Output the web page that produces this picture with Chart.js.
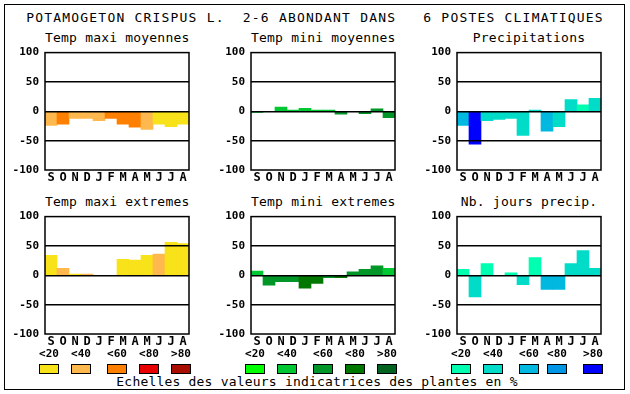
<!DOCTYPE html>
<html><head><meta charset="utf-8">
<script src="https://cdn.jsdelivr.net/npm/chart.js@4/dist/chart.umd.min.js"></script>
<style>
html,body{margin:0;padding:0;background:#fff;}
#wrap{position:relative;width:630px;height:394px;overflow:hidden;font-family:"DejaVu Sans Mono",monospace;}
#frame{position:absolute;left:4px;top:4px;width:621px;height:386px;border:1px solid #000;box-sizing:border-box;}
.txt{position:absolute;white-space:pre;color:#000;}
canvas{position:absolute;}
.box{position:absolute;width:18px;height:8px;border:1px solid #000;}
.lab{position:absolute;font-weight:bold;font-size:11px;text-align:center;width:30px;}
</style></head><body>
<div id="wrap">
<div id="frame"></div>
<div class="txt" style="left:0;width:630px;text-align:center;top:10px;font-size:13px;letter-spacing:1.2px;">POTAMOGETON CRISPUS L.  2-6 ABONDANT DANS   6 POSTES CLIMATIQUES</div>
<div class="txt" style="left:0;width:630px;text-align:center;top:374px;font-size:13px;letter-spacing:0.2px;padding-left:2px;">Echelles des valeurs indicatrices des plantes en %</div>
</div>
<script>
const months = ["S","O","N","D","J","F","M","A","M","J","J","A"];
const yTicks = [-100,-50,0,50,100];
const classLabels = ["<20","<40","<60","<80",">80"];
const titles = ["Temp maxi moyennes","Temp mini moyennes","Precipitations",
                "Temp maxi extremes","Temp mini extremes","Nb. jours precip."];

// colour scales: <20, <40, <60, <80, >80
const scaleTemp  = ["#F8E21A","#FFB84D","#FF8000","#E80000","#A80E00"];
const scaleMini  = ["#00FF00","#00C832","#009628","#007800","#006420"];
const scalePrec  = ["#00FFB0","#00DCC8","#00B8E0","#0096E6","#0000FF"];

// values per month (S..A)
const tmaxMoy  = [-24,-22,-12,-12,-16,-12,-22,-27,-31,-22,-26,-22];
const tminMoy  = [-2,0,7,2,5,2,2,-5,0,-4,4,-11];
const precip   = [-24,-56,-16,-14,-12,-41,2,-34,-26,20,11,22];
const tmaxExt  = [34,12,2,2,0,0,27,26,34,36,56,54];
const tminExt  = [7,-17,-11,-11,-22,-14,-4,-4,6,10,16,12];
const nbJours  = [10,-37,20,0,4,-16,30,-24,-24,20,42,12];

// class index (0:<20 .. 4:>80) per bar
const tmaxMoyCls = [1,2,1,1,1,2,2,2,1,0,0,0];
const tminMoyCls = [1,1,1,1,1,1,1,2,1,2,2,2];
const precipCls  = [2,4,1,1,1,1,1,2,1,1,0,1];
const tmaxExtCls = [0,1,0,1,0,0,0,0,0,1,0,0];
const tminExtCls = [1,2,2,2,3,3,2,3,2,2,2,1];
const nbJoursCls = [0,1,0,0,0,1,0,2,2,1,1,1];

const panels = [
  {title:titles[0], data:tmaxMoy, cls:tmaxMoyCls, scale:scaleTemp, x:45,  y:50},
  {title:titles[1], data:tminMoy, cls:tminMoyCls, scale:scaleMini, x:251, y:50},
  {title:titles[2], data:precip,  cls:precipCls,  scale:scalePrec, x:457, y:50},
  {title:titles[3], data:tmaxExt, cls:tmaxExtCls, scale:scaleTemp, x:45,  y:214},
  {title:titles[4], data:tminExt, cls:tminExtCls, scale:scaleMini, x:251, y:214},
  {title:titles[5], data:nbJours, cls:nbJoursCls, scale:scalePrec, x:457, y:214}
];

const wrap = document.getElementById('wrap');
const PW = 144, PH = 120, LM = 45, TM = 10, RM = 5, BM = 18;

const framePlugin = {
  id:'frame',
  afterDraw(chart){
    const a = chart.chartArea, c = chart.ctx;
    c.save(); c.strokeStyle='#000'; c.lineWidth=1.5;
    c.strokeRect(a.left, a.top, a.right-a.left, a.bottom-a.top);
    c.restore();
  }
};

panels.forEach(p=>{
  const t = document.createElement('div');
  t.className='txt';
  t.style.cssText=`left:${p.x}px;width:${PW}px;text-align:center;top:${p.y-20}px;font-size:13px;letter-spacing:0.2px;`;
  t.textContent=p.title;
  wrap.appendChild(t);
  const cv = document.createElement('canvas');
  const w = LM+PW+RM, h = TM+PH+BM;
  cv.width=w; cv.height=h;
  cv.style.left=(p.x-LM)+'px'; cv.style.top=(p.y-TM)+'px';
  cv.style.width=w+'px'; cv.style.height=h+'px';
  wrap.appendChild(cv);
  new Chart(cv,{
    type:'bar',
    data:{labels:months, datasets:[{data:p.data, backgroundColor:p.cls.map(i=>p.scale[i]), borderWidth:0, barPercentage:1, categoryPercentage:1}]},
    options:{
      responsive:false, animation:false, devicePixelRatio:1,
      layout:{padding:{top:TM,right:RM,left:0,bottom:0}},
      plugins:{legend:{display:false},tooltip:{enabled:false}},
      scales:{
        x:{grid:{display:false,drawTicks:false,tickLength:0}, border:{display:false},
           ticks:{color:'#000',font:{family:'DejaVu Sans Mono',size:12,weight:'bold'},padding:1,maxRotation:0,autoSkip:false},
           afterFit:s=>{s.height=BM;}},
        y:{min:-100,max:100, afterBuildTicks:s=>{s.ticks=yTicks.map(v=>({value:v}));},
           grid:{color:c=>(c.tick&&Math.abs(c.tick.value)<100)?'#000':'rgba(0,0,0,0)',lineWidth:1.5,drawTicks:false,z:1},
           border:{display:false},
           ticks:{color:'#000',font:{family:'DejaVu Sans Mono',size:11,weight:'bold'},padding:6},
           afterFit:s=>{s.width=LM;}}
      }
    },
    plugins:[framePlugin]
  });
});

// legends
const groups = [
  {scale:scaleTemp, xs:[39,71,107,139,171]},
  {scale:scaleMini, xs:[245,277,313,345,377]},
  {scale:scalePrec, xs:[451,483,519,547,583]}
];
groups.forEach(g=>{
  g.xs.forEach((x,i)=>{
    const b=document.createElement('div');
    b.className='box'; b.style.left=x+'px'; b.style.top='364px'; b.style.background=g.scale[i];
    wrap.appendChild(b);
    const l=document.createElement('div');
    l.className='lab'; l.style.left=(x-5)+'px'; l.style.top='347px'; l.textContent=classLabels[i];
    wrap.appendChild(l);
  });
});
</script>
</body></html>
